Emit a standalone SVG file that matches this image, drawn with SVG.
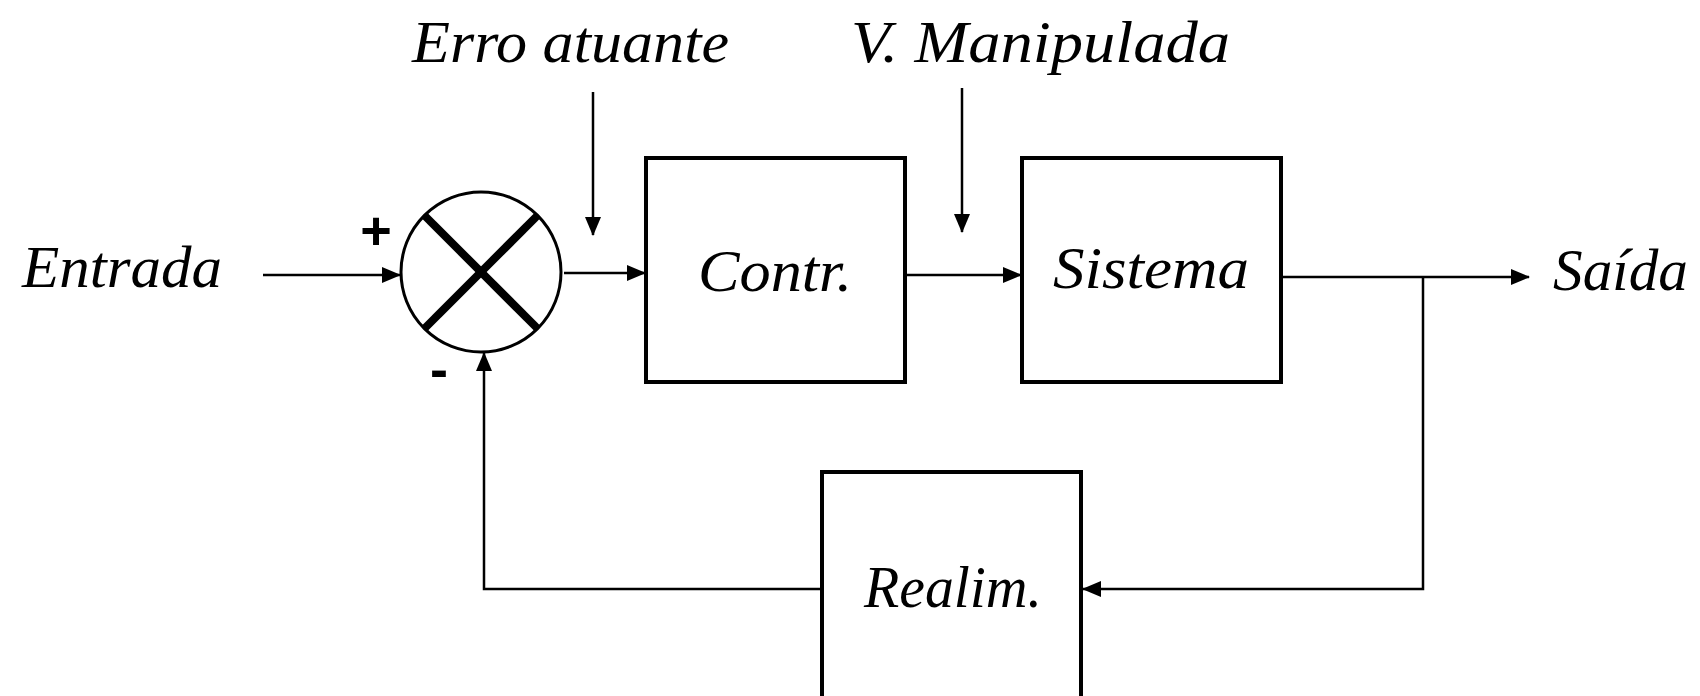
<svg xmlns="http://www.w3.org/2000/svg" width="1700" height="696" viewBox="0 0 1700 696">
  <style>
    .lbl { font-family: "Liberation Serif", "Times New Roman", serif; font-style: italic; font-size: 60px; fill: #000; }
    .sign { font-family: "Liberation Sans", Arial, sans-serif; font-weight: bold; font-size: 54px; fill: #000; }
    .box { fill: #fff; stroke: #000; stroke-width: 4; }
    .wire { fill: none; stroke: #000; stroke-width: 2.5; }
  </style>
  <defs>
    <marker id="arrow" markerUnits="userSpaceOnUse" markerWidth="20" markerHeight="16" refX="18" refY="8" orient="auto">
      <path d="M0,0 L19,8 L0,16 Z" fill="#000"/>
    </marker>
  </defs>
  <rect width="1700" height="696" fill="#fff"/>

  <g id="label-erro">
    <text class="lbl" x="412" y="62" textLength="317" lengthAdjust="spacingAndGlyphs">Erro atuante</text>
  </g>
  <g id="label-vman">
    <text class="lbl" x="851" y="62" textLength="379" lengthAdjust="spacingAndGlyphs">V. Manipulada</text>
  </g>
  <g id="label-entrada">
    <text class="lbl" x="22" y="287" textLength="200" lengthAdjust="spacingAndGlyphs">Entrada</text>
  </g>
  <g id="label-saida">
    <text class="lbl" x="1553" y="290" textLength="135" lengthAdjust="spacingAndGlyphs">Saída</text>
  </g>

  <g id="summer">
    <circle cx="481" cy="272" r="80" fill="#fff" stroke="#000" stroke-width="3"/>
    <line x1="424" y1="215" x2="538" y2="329" stroke="#000" stroke-width="8"/>
    <line x1="538" y1="215" x2="424" y2="329" stroke="#000" stroke-width="8"/>
    <text class="sign" x="376" y="249" text-anchor="middle">+</text>
    <text class="sign" x="439" y="388" text-anchor="middle">-</text>
  </g>

  <g id="contr">
    <rect class="box" x="646" y="158" width="259" height="224"/>
    <text class="lbl" x="775" y="291" text-anchor="middle" textLength="154" lengthAdjust="spacingAndGlyphs">Contr.</text>
  </g>

  <g id="sistema">
    <rect class="box" x="1022" y="158" width="259" height="224"/>
    <text class="lbl" x="1151" y="288" text-anchor="middle" textLength="196" lengthAdjust="spacingAndGlyphs">Sistema</text>
  </g>

  <g id="realim">
    <rect class="box" x="822" y="472" width="259" height="260"/>
    <text class="lbl" x="953" y="607" text-anchor="middle" textLength="178" lengthAdjust="spacingAndGlyphs">Realim.</text>
  </g>

  <g id="connectors">
    <line class="wire" x1="263" y1="275" x2="400" y2="275" marker-end="url(#arrow)"/>
    <line class="wire" x1="564" y1="273" x2="645" y2="273" marker-end="url(#arrow)"/>
    <line class="wire" x1="906" y1="275" x2="1021" y2="275" marker-end="url(#arrow)"/>
    <line class="wire" x1="1282" y1="277" x2="1529" y2="277" marker-end="url(#arrow)"/>
    <polyline class="wire" points="1423,277 1423,589 1083,589" marker-end="url(#arrow)"/>
    <polyline class="wire" points="821,589 484,589 484,353" marker-end="url(#arrow)"/>
    <line class="wire" x1="593" y1="92" x2="593" y2="235" marker-end="url(#arrow)"/>
    <line class="wire" x1="962" y1="88" x2="962" y2="232" marker-end="url(#arrow)"/>
  </g>
</svg>
